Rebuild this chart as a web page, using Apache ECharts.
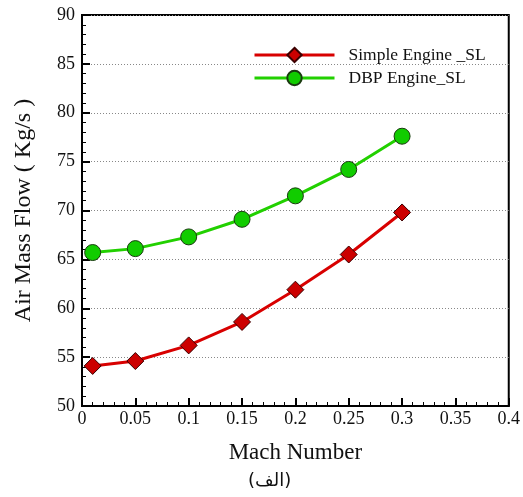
<!doctype html>
<html lang="en">
<head>
    <meta charset="UTF-8">
    <title>Air Mass Flow vs Mach Number</title>
    <style>
        html, body { margin: 0; padding: 0; background: #fff; }
        #main { width: 523px; height: 497px; }
    </style>
</head>
<body>
<div id="main"></div>
<script src="https://cdn.jsdelivr.net/npm/echarts@6/dist/echarts.min.js"></script>
<script type="text/javascript">
    // data
    var mach = [0.01, 0.05, 0.1, 0.15, 0.2, 0.25, 0.3];
    var simpleSL = [54.1, 54.6, 56.2, 58.6, 61.9, 65.5, 69.8];
    var dbpSL = [65.7, 66.1, 67.3, 69.1, 71.5, 74.2, 77.6];
    var seriesNames = ['Simple Engine _SL', 'DBP Engine_SL'];

    function pairs(xs, ys) {
        var out = [];
        for (var i = 0; i < xs.length; i++) out.push([xs[i], ys[i]]);
        return out;
    }

    var serif = 'Liberation Serif';
    var myChart = echarts.init(document.getElementById('main'));

    var option = {
        animation: false,
        backgroundColor: '#fff',
        grid: {
            left: 82,
            right: 11,
            top: 15,
            bottom: 91,
            show: true,
            borderColor: '#000',
            borderWidth: 2
        },
        legend: {
            left: 253,
            top: 46,
            padding: 0,
            orient: 'vertical',
            itemWidth: 80,
            itemHeight: 18,
            itemGap: 5,
            lineStyle: { width: 3 },
            textStyle: { fontFamily: serif, fontSize: 17.5, color: '#111', padding: [0, 0, 0, 9] },
            data: seriesNames
        },
        xAxis: {
            type: 'value',
            min: 0,
            max: 0.4,
            interval: 0.05,
            name: 'Mach Number',
            nameLocation: 'middle',
            nameGap: 35,
            nameTextStyle: { fontFamily: serif, fontSize: 23, color: '#111' },
            axisLine: { lineStyle: { color: '#000', width: 2 } },
            axisTick: { inside: true, length: 8, lineStyle: { color: '#000', width: 2 } },
            minorTick: { show: true, splitNumber: 5, length: 4, lineStyle: { color: '#000' } },
            axisLabel: {
                fontFamily: serif, fontSize: 18, color: '#111', margin: 4,
                formatter: function (v) { return String(+v.toFixed(2)); }
            },
            splitLine: { show: false }
        },
        yAxis: {
            type: 'value',
            min: 50,
            max: 90,
            interval: 5,
            name: 'Air Mass Flow ( Kg/s )',
            nameLocation: 'middle',
            nameGap: 46,
            nameTextStyle: { fontFamily: serif, fontSize: 24, color: '#111' },
            axisLine: { lineStyle: { color: '#000', width: 2 } },
            axisTick: { inside: true, length: 8, lineStyle: { color: '#000', width: 2 } },
            minorTick: { show: true, splitNumber: 5, length: 4, lineStyle: { color: '#000' } },
            axisLabel: { fontFamily: serif, fontSize: 18, color: '#111', margin: 7 },
            splitLine: { show: true, lineStyle: { color: '#888', type: [1, 2], width: 1 } }
        },
        series: [
            {
                name: seriesNames[0],
                type: 'line',
                data: pairs(mach, simpleSL),
                symbol: 'diamond',
                symbolSize: 17,
                lineStyle: { color: '#d80000', width: 3 },
                itemStyle: { color: '#cc0000', borderColor: '#3a0000', borderWidth: 1 }
            },
            {
                name: seriesNames[1],
                type: 'line',
                data: pairs(mach, dbpSL),
                symbol: 'circle',
                symbolSize: 16,
                lineStyle: { color: '#22d000', width: 3 },
                itemStyle: { color: '#11cc00', borderColor: '#1a3a10', borderWidth: 1 }
            }
        ],
        graphic: [
            {
                type: 'text',
                left: 248,
                top: 472,
                style: {
                    text: '(الف)',
                    font: '18px "DejaVu Sans"',
                    fill: '#111'
                }
            }
        ]
    };

    myChart.setOption(option);
</script>
</body>
</html>
